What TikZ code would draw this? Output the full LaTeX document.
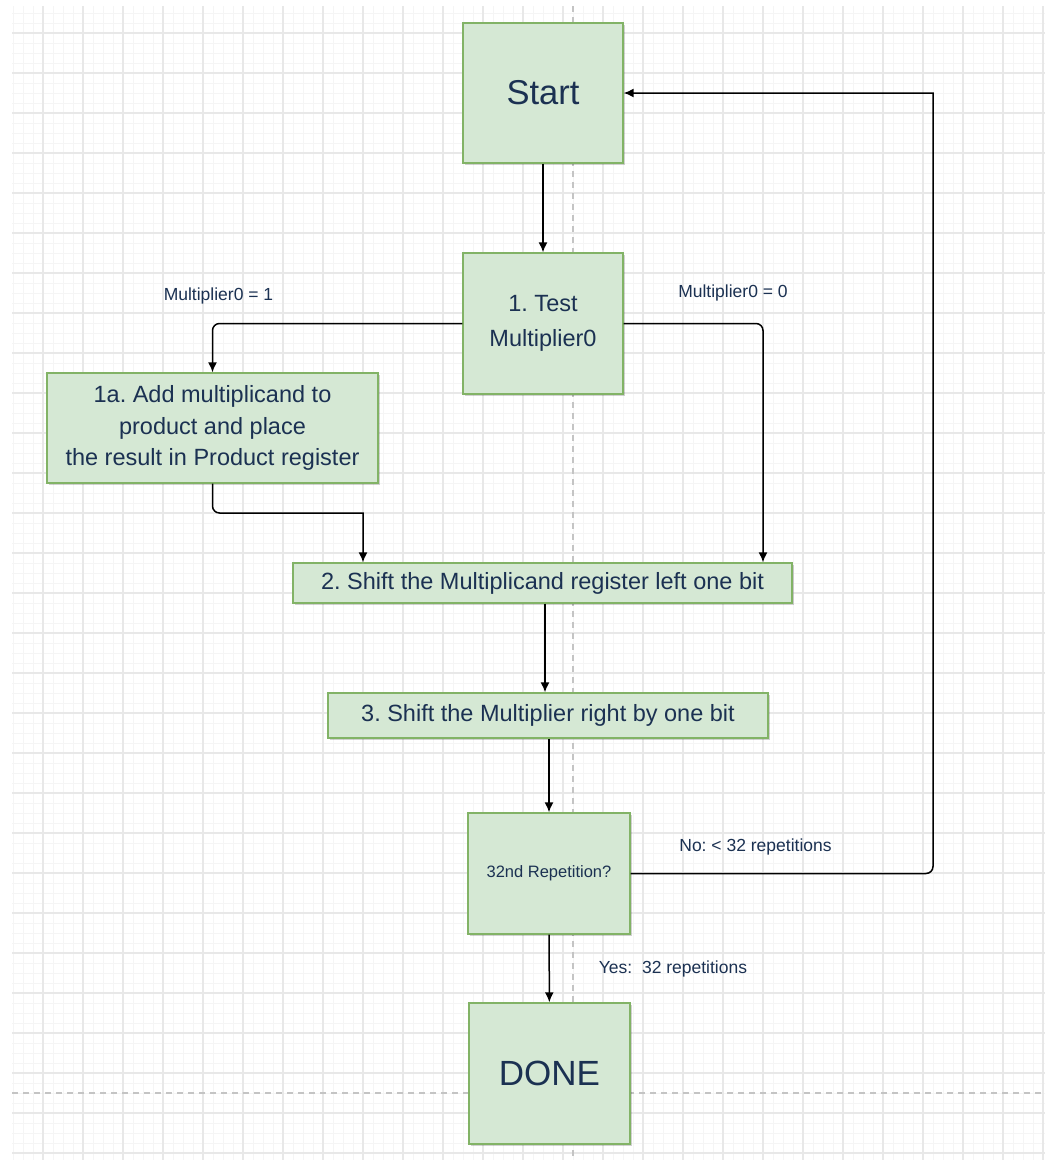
\documentclass[tikz,border=0pt]{standalone}
\usepackage{fontspec}
\setmainfont{Liberation Sans}
\usetikzlibrary{arrows.meta,shadows,calc}
\definecolor{boxfill}{HTML}{D5E8D4}
\definecolor{boxline}{HTML}{82B366}
\definecolor{ink}{HTML}{1B3152}
\definecolor{gridminor}{HTML}{F5F5F5}
\definecolor{gridmajor}{HTML}{E8E8E8}
\definecolor{guide}{HTML}{C4C4C4}
\tikzset{
  stepbox/.style={draw=boxline, fill=boxfill, line width=1.4pt, inner sep=0pt,
    align=center, text=ink,
    drop shadow={shadow xshift=2pt, shadow yshift=-2pt, opacity=0.18, fill=black}},
  flow/.style={draw=black, line width=1.5pt, -{Latex[length=10pt,width=9pt]}},
  tag/.style={text=ink, inner sep=0pt, font=\fontsize{17.5}{20}\selectfont},
}
\begin{document}
\frenchspacing
\begin{tikzpicture}[x=1pt,y=-1pt]
\useasboundingbox (0,0) rectangle (1045,1160);
\fill[white] (0,0) rectangle (1045,1160);

% background grid: minor every 10, major every 40
\foreach \gx in {13,23,...,1043} \draw[gridminor, line width=1pt] (\gx,6) -- (\gx,1160);
\foreach \gy in {13,23,...,1153} \draw[gridminor, line width=1pt] (12,\gy) -- (1045,\gy);
\foreach \gx in {43,83,...,1043} \draw[gridmajor, line width=1.2pt] (\gx,6) -- (\gx,1160);
\foreach \gy in {33,73,...,1153} \draw[gridmajor, line width=1.2pt] (12,\gy) -- (1045,\gy);
% page guides
\draw[guide, line width=1.2pt, dash pattern=on 6pt off 5pt] (573,6) -- (573,1160);
\draw[guide, line width=1.2pt, dash pattern=on 6pt off 5pt] (12,1093) -- (1045,1093);

% steps
\node[stepbox, minimum width=160pt, minimum height=140pt,
  font=\fontsize{34.5}{40}\selectfont] (start) at (543,93) {\raisebox{-3pt}{Start}};
\node[stepbox, minimum width=160pt, minimum height=141pt,
  font=\fontsize{23.5}{35}\selectfont] (test) at (543,323.5) {1. Test\\Multiplier0};
\node[stepbox, minimum width=331pt, minimum height=110pt,
  font=\fontsize{23.5}{31.5}\selectfont] (add) at (212.5,428)
  {1a. Add multiplicand to\\product and place\\the result in Product register};
\node[stepbox, minimum width=499pt, minimum height=40pt,
  font=\fontsize{23.5}{28}\selectfont] (shiftmc) at (542.5,583)
  {2. Shift the Multiplicand register left one bit};
\node[stepbox, minimum width=440pt, minimum height=45pt,
  font=\fontsize{23.5}{28}\selectfont] (shiftmp) at (548,715.5)
  {3. Shift the Multiplier right by one bit};
\node[stepbox, minimum width=162pt, minimum height=121pt,
  font=\fontsize{16.5}{20}\selectfont] (rep) at (549,873.5) {32nd Repetition?};
\node[stepbox, minimum width=161pt, minimum height=141pt,
  font=\fontsize{35}{40}\selectfont] (done) at (549.5,1073.5) {\raisebox{-2pt}{DONE}};

% bend points
\coordinate (joinA) at (363,513);
\coordinate (zeroX) at (763,323);
\coordinate (back) at (933,93);

% connectors
\draw[flow] (start) -- (test);
\draw[flow, rounded corners=7pt] (test.west) -| (add.north);
\draw[flow, rounded corners=7pt] (test.east) -| (zeroX |- shiftmc.north);
\draw[flow] (add.south) [rounded corners=7pt] -- (add.south |- joinA)
  [sharp corners] -- (joinA) -- (joinA |- shiftmc.north);
\draw[flow] (shiftmc.south -| 545,0) -- (shiftmp.north -| 545,0);
\draw[flow] (shiftmp.south -| rep) -- (rep.north);
\draw[flow] (rep) -- (done);
\draw[flow] (rep.east) [rounded corners=7pt] -- (back |- rep.east)
  [sharp corners] -- (back) -- (start.east);

% branch labels
\node[tag] (lblone) at (218.5,295.5) {Multiplier0 = 1};
\node[tag] (lblzero) at (733,293) {Multiplier0 = 0};
\node[tag] (lblno) at (755.5,847) {No: < 32 repetitions};
\node[tag] (lblyes) at (673,968.5) {Yes:\ \ 32 repetitions};
\end{tikzpicture}
\end{document}
